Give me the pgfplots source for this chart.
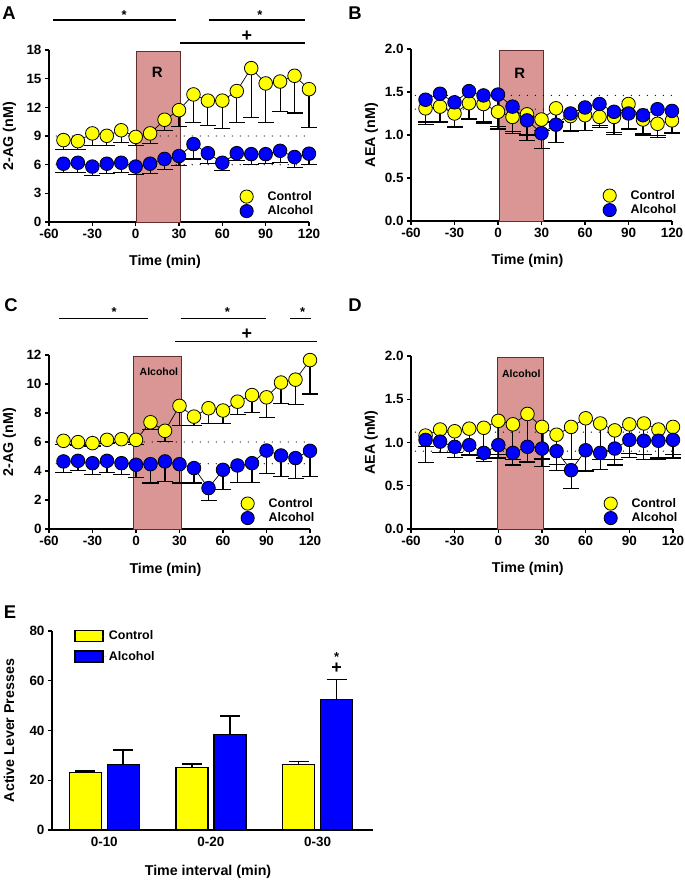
\documentclass[border=0pt]{standalone}
\usepackage{fontspec}
\setmainfont{Liberation Sans}
\usepackage{pgfplots}
\pgfplotsset{compat=1.18}
\usepackage{pgfplotstable}

\definecolor{boxfill}{RGB}{217,150,148}
\definecolor{boxdraw}{RGB}{100,45,45}
\definecolor{cyel}{RGB}{255,255,0}
\definecolor{cblu}{RGB}{0,0,255}

\newcommand{\tf}{\bfseries\fontsize{13.5}{15}\selectfont}
\newcommand{\lf}{\bfseries\fontsize{14.3}{16}\selectfont}
\newcommand{\gf}{\bfseries\fontsize{12.5}{14}\selectfont}

\pgfplotsset{
 base/.style={scale only axis, axis x line*=bottom, axis y line*=left,
   tick align=outside, major tick length=4bp,
   axis line style={line width=1.3bp}, tick style={line width=1.3bp, black},
   clip=false, /pgf/number format/assume math mode=true,
   ticklabel style={font=\tf}, label style={font=\lf}},
 ts/.style={base, xmin=-60, xmax=120, xtick={-60,-30,0,30,60,90,120},
   xlabel={Time (min)},
   xlabel style={at={(axis description cs:0.446,-0.233)}, anchor=center},
   ylabel style={at={(axis description cs:-0.152,0.5)}, anchor=center},
   legend style={draw=none, fill=none, at={(1.025,0.02)}, anchor=south east,
     font=\gf, row sep=0bp, inner sep=0pt},
   legend cell align=left},
 eb/.style={forget plot, draw=none, mark=none,
   error bars/.cd, y dir=minus, y explicit,
   error bar style={line width=1.2bp, draw=black, solid},
   error mark options={rotate=90, line width=1.2bp, draw=black, mark size=8bp}},
 ctl/.style={draw=black, line width=0.7bp, mark=*, mark size=6.8bp,
   mark options={fill=cyel, draw=black, line width=0.8bp, solid},
   legend image code/.code={\draw[fill=cyel,draw=black,line width=0.8bp] (0bp,0bp) circle (6.6bp); \path[draw=none] (-7bp,0bp) -- (19bp,0bp);}},
 alc/.style={draw=black, line width=0.7bp, mark=*, mark size=6.8bp,
   mark options={fill=cblu, draw=black, line width=0.8bp, solid},
   legend image code/.code={\draw[fill=cblu,draw=black,line width=0.8bp] (0bp,0bp) circle (6.6bp); \path[draw=none] (-7bp,0bp) -- (19bp,0bp);}},
 dots/.style={forget plot, black, line width=1.3bp, line cap=round, dash pattern=on 0bp off 8bp},
}

\pgfplotstableread{
t c ce a ae
-50 8.57 0.97 6.1 0.9
-40 8.46 0.86 6.2 1.0
-30 9.27 1.27 5.8 0.9
-20 9.02 1.02 6.1 1.0
-10 9.6 1.3 6.2 1.0
0 8.9 0.9 5.8 0.8
10 9.27 1.07 6.1 1.0
20 10.7 1.1 6.6 1.1
30 11.7 1.7 6.9 1.0
40 13.35 2.9 8.15 1.55
50 12.7 2.6 7.2 1.1
60 12.7 2.9 6.2 0.85
70 13.7 3.25 7.2 0.8
80 16.1 5.2 7.1 1.1
90 14.5 4.05 7.1 1.0
100 14.7 3.1 7.45 1.25
110 15.3 3.9 6.8 1.1
120 13.9 4.0 7.15 1.1
}\dataA

\pgfplotstableread{
t c ce a ae
-50 1.31 0.19 1.41 0.26
-40 1.33 0.18 1.48 0.32
-30 1.25 0.16 1.38 0.28
-20 1.37 0.18 1.51 0.33
-10 1.36 0.22 1.46 0.30
0 1.27 0.20 1.47 0.37
10 1.21 0.19 1.33 0.29
20 1.24 0.24 1.17 0.23
30 1.18 0.13 1.02 0.18
40 1.31 0.16 1.12 0.21
50 1.22 0.18 1.25 0.20
60 1.23 0.18 1.32 0.27
70 1.21 0.12 1.36 0.25
80 1.21 0.20 1.27 0.24
90 1.36 0.30 1.25 0.17
100 1.18 0.18 1.23 0.21
110 1.13 0.16 1.30 0.31
120 1.17 0.15 1.28 0.25
}\dataB

\pgfplotstableread{
t c ce a ae
-50 6.08 0.25 4.66 0.76
-40 5.99 0.2 4.70 0.66
-30 5.92 0.2 4.54 0.76
-20 6.15 0.25 4.70 0.78
-10 6.19 0.25 4.54 0.80
0 6.15 0.3 4.43 0.87
10 7.36 0.5 4.47 1.30
20 6.77 0.74 4.66 1.38
30 8.49 1.36 4.47 1.30
40 7.75 0.62 4.20 1.03
50 8.33 1.08 2.82 0.87
60 8.17 0.92 4.08 1.37
70 8.78 0.91 4.38 1.15
80 9.24 1.21 4.54 1.31
90 9.08 1.37 5.41 1.56
100 10.1 1.43 5.07 1.45
110 10.3 1.74 4.89 1.38
120 11.65 2.34 5.39 1.77
}\dataC

\pgfplotstableread{
t c ce a ae
-50 1.08 0.13 1.03 0.26
-40 1.15 0.27 1.01 0.13
-30 1.13 0.25 0.95 0.12
-20 1.16 0.30 0.97 0.12
-10 1.17 0.35 0.88 0.10
0 1.25 0.39 0.97 0.15
10 1.21 0.41 0.88 0.14
20 1.33 0.56 0.95 0.17
30 1.18 0.37 0.93 0.21
40 1.09 0.34 0.90 0.22
50 1.18 0.38 0.68 0.21
60 1.28 0.61 0.91 0.24
70 1.22 0.42 0.88 0.19
80 1.14 0.34 0.93 0.19
90 1.21 0.34 1.03 0.20
100 1.22 0.36 1.02 0.22
110 1.15 0.33 1.02 0.22
120 1.18 0.32 1.03 0.21
}\dataD

\begin{document}
\begin{tikzpicture}
\useasboundingbox (0bp,0bp) rectangle (685bp,880bp);

% ---------------- Panel A ----------------
\begin{axis}[ts, at={(49bp,658bp)}, anchor=south west, width=260bp, height=172bp,
  ymin=0, ymax=18, ytick={0,3,...,18}, ylabel={2-AG (nM)}]
\draw[fill=boxfill, draw=boxdraw, line width=0.9bp] (axis cs:0.3,0) rectangle (axis cs:30.7,17.85);
\node[font=\bfseries\fontsize{15}{17}\selectfont] at (axis cs:15,15.7) {R};
\addplot[dots] coordinates {(-55,9) (120,9)};
\addplot[dots] coordinates {(-55,6) (120,6)};
\addplot[eb] table[x=t, y=c, y error=ce] {\dataA};
\addplot[ctl] table[x=t, y=c] {\dataA}; \addlegendentry{Control}
\addplot[eb] table[x=t, y=a, y error=ae] {\dataA};
\addplot[alc] table[x=t, y=a] {\dataA}; \addlegendentry{Alcohol}
\draw[line width=1.3bp] (axis cs:-57,21.14) -- (axis cs:28,21.14);
\draw[line width=1.3bp] (axis cs:50.5,21.14) -- (axis cs:117,21.14);
\draw[line width=1.3bp] (axis cs:30.5,18.73) -- (axis cs:117,18.73);
\node[font=\bfseries\fontsize{13}{15}\selectfont] at (axis cs:-8,21.7) {*};
\node[font=\bfseries\fontsize{13}{15}\selectfont] at (axis cs:86,21.7) {*};
\node[font=\bfseries\fontsize{18}{20}\selectfont] at (axis cs:77,19.4) {+};
\end{axis}

% ---------------- Panel B ----------------
\begin{axis}[ts, at={(411bp,659bp)}, anchor=south west, width=261bp, height=172bp,
  ymin=0, ymax=2, ytick={0,0.5,...,2}, ylabel={AEA (nM)},
  yticklabel style={/pgf/number format/.cd, fixed, fixed zerofill, precision=1}]
\draw[fill=boxfill, draw=boxdraw, line width=0.9bp] (axis cs:1.3,0) rectangle (axis cs:31.3,1.985);
\node[font=\bfseries\fontsize{15}{17}\selectfont] at (axis cs:15,1.72) {R};
\addplot[dots] coordinates {(-57,1.46) (120,1.46)};
\addplot[dots] coordinates {(-57,1.30) (120,1.30)};
\addplot[eb] table[x=t, y=c, y error=ce] {\dataB};
\addplot[ctl] table[x=t, y=c] {\dataB}; \addlegendentry{Control}
\addplot[eb] table[x=t, y=a, y error=ae] {\dataB};
\addplot[alc] table[x=t, y=a] {\dataB}; \addlegendentry{Alcohol}
\end{axis}

% ---------------- Panel C ----------------
\begin{axis}[ts, at={(49bp,351bp)}, anchor=south west, width=261bp, height=174bp,
  ymin=0, ymax=12, ytick={0,2,...,12}, ylabel={2-AG (nM)}]
\draw[fill=boxfill, draw=boxdraw, line width=0.9bp] (axis cs:-2,0) rectangle (axis cs:31.6,11.93);
\node[font=\bfseries\fontsize{10.5}{12}\selectfont] at (axis cs:15.8,10.85) {Alcohol};
\addplot[dots] coordinates {(-55,6) (120,6)};
\addplot[dots] coordinates {(-55,4.5) (120,4.5)};
\addplot[eb] table[x=t, y=c, y error=ce] {\dataC};
\addplot[ctl] table[x=t, y=c] {\dataC}; \addlegendentry{Control}
\addplot[eb] table[x=t, y=a, y error=ae] {\dataC};
\addplot[alc] table[x=t, y=a] {\dataC}; \addlegendentry{Alcohol}
\draw[line width=1.3bp] (axis cs:-53.1,14.53) -- (axis cs:8.6,14.53);
\draw[line width=1.3bp] (axis cs:30.7,14.53) -- (axis cs:89.7,14.53);
\draw[line width=1.3bp] (axis cs:106.2,14.53) -- (axis cs:120.7,14.53);
\draw[line width=1.3bp] (axis cs:27,12.92) -- (axis cs:124.8,12.92);
\node[font=\bfseries\fontsize{13}{15}\selectfont] at (axis cs:-15,14.95) {*};
\node[font=\bfseries\fontsize{13}{15}\selectfont] at (axis cs:63,14.95) {*};
\node[font=\bfseries\fontsize{13}{15}\selectfont] at (axis cs:115,14.95) {*};
\node[font=\bfseries\fontsize{18}{20}\selectfont] at (axis cs:76.4,13.45) {+};
\end{axis}

% ---------------- Panel D ----------------
\begin{axis}[ts, at={(411bp,351bp)}, anchor=south west, width=262bp, height=173bp,
  ymin=0, ymax=2, ytick={0,0.5,...,2}, ylabel={AEA (nM)},
  yticklabel style={/pgf/number format/.cd, fixed, fixed zerofill, precision=1}]
\draw[fill=boxfill, draw=boxdraw, line width=0.9bp] (axis cs:-0.4,0) rectangle (axis cs:31.3,1.985);
\node[font=\bfseries\fontsize{10.5}{12}\selectfont] at (axis cs:15.8,1.80) {Alcohol};
\addplot[dots] coordinates {(-57,1.12) (120,1.12)};
\addplot[dots] coordinates {(-57,0.90) (120,0.90)};
\addplot[eb] table[x=t, y=c, y error=ce] {\dataD};
\addplot[ctl] table[x=t, y=c] {\dataD}; \addlegendentry{Control}
\addplot[eb] table[x=t, y=a, y error=ae] {\dataD};
\addplot[alc] table[x=t, y=a] {\dataD}; \addlegendentry{Alcohol}
\end{axis}

% ---------------- Panel E ----------------
\begin{axis}[base, at={(52bp,50bp)}, anchor=south west, width=321bp, height=199bp,
  xmin=0.51, xmax=3.52, ymin=0, ymax=80, ytick={0,20,...,80},
  xtick={1,2,3}, xticklabels={0-10,0-20,0-30}, xtick style={draw=none},
  ylabel={Active Lever Presses}, xlabel={Time interval (min)},
  ylabel style={at={(axis description cs:-0.134,0.5)}, anchor=center},
  xlabel style={at={(axis description cs:0.486,-0.211)}, anchor=center},
  legend style={draw=none, fill=none, at={(0.069,1.012)}, anchor=north west,
     font=\gf, row sep=6bp, inner sep=0pt},
  legend cell align=left]
\addplot[ybar, bar width=0.30, bar shift=0, fill=cyel, draw=black, line width=1.3bp,
  legend image code/.code={\draw[fill=cyel,draw=black,line width=1.2bp] (0bp,-5.5bp) rectangle (28bp,5.5bp); \path[draw=none] (0bp,0bp) -- (32bp,0bp);},
  error bars/.cd, y dir=plus, y explicit,
  error bar style={line width=1.6bp, black},
  error mark options={rotate=90, line width=1.6bp, black, mark size=10bp}]
  coordinates {(0.822,23.0) +- (0,0.8) (1.822,25.2) +- (0,1.3) (2.822,26.4) +- (0,1.2)};
\addlegendentry{Control}
\addplot[ybar, bar width=0.30, bar shift=0, fill=cblu, draw=black, line width=1.3bp,
  legend image code/.code={\draw[fill=cblu,draw=black,line width=1.2bp] (0bp,-5.5bp) rectangle (28bp,5.5bp); \path[draw=none] (0bp,0bp) -- (32bp,0bp);},
  error bars/.cd, y dir=plus, y explicit,
  error bar style={line width=1.6bp, black},
  error mark options={rotate=90, line width=1.6bp, black, mark size=10bp}]
  coordinates {(1.178,26.4) +- (0,5.7) (2.178,38.5) +- (0,7.3) (3.178,52.6) +- (0,7.9)};
\addlegendentry{Alcohol}
\node[inner sep=0pt, font=\bfseries\fontsize{13}{15}\selectfont] at (axis cs:3.178,69.6) {*};
\node[inner sep=0pt, font=\bfseries\fontsize{18}{20}\selectfont] at (axis cs:3.178,65.0) {+};
\end{axis}

% Panel letters
\node[font=\bfseries\fontsize{18.5}{21}\selectfont] at (9bp,867bp) {A};
\node[font=\bfseries\fontsize{18.5}{21}\selectfont] at (355bp,867bp) {B};
\node[font=\bfseries\fontsize{18.5}{21}\selectfont] at (11bp,575bp) {C};
\node[font=\bfseries\fontsize{18.5}{21}\selectfont] at (355bp,575bp) {D};
\node[font=\bfseries\fontsize{18.5}{21}\selectfont] at (10bp,268bp) {E};
\end{tikzpicture}
\end{document}
